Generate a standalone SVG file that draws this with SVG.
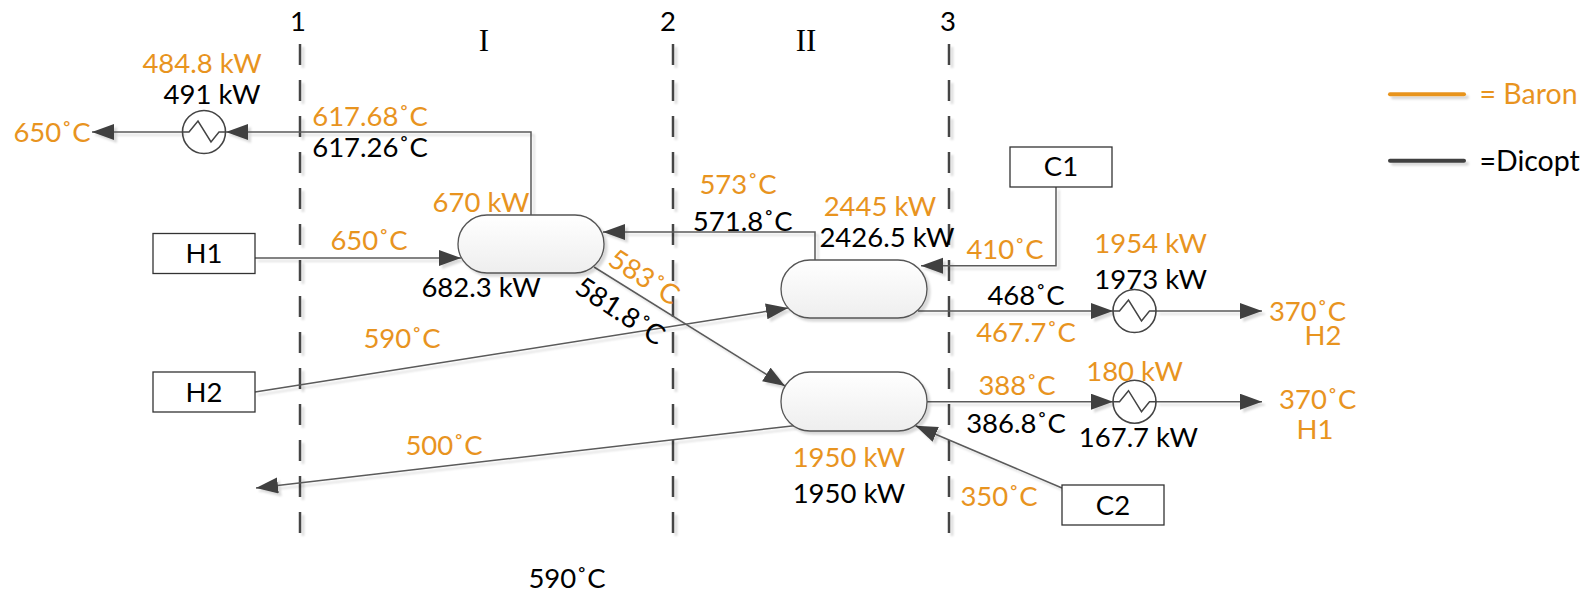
<svg xmlns="http://www.w3.org/2000/svg" width="1593" height="594" viewBox="0 0 1593 594">
<style>
text{font-family:"Lato","Carlito","Open Sans",sans-serif;font-size:27.500px;text-anchor:middle;fill:#000}
.o{fill:#e8941f}
.s{font-family:"Liberation Serif",serif;font-size:31px}
.l{text-anchor:start;font-size:28.500px}
.box{fill:#fff;stroke:#333;stroke-width:1.3}
.ves{fill:url(#g);stroke:#555;stroke-width:1.3;filter:url(#sh)}
.c{fill:none;stroke:#5a5a5a;stroke-width:1.5;marker-end:url(#a)}
.d{fill:none;stroke:#444;stroke-width:2.5;stroke-dasharray:21 15}
.hx{fill:#fff;fill-opacity:0;stroke:#444;stroke-width:1.6}
.z{fill:none;stroke:#444;stroke-width:1.5}
</style>
<defs>
<linearGradient id="g" x1="0" y1="0" x2="0" y2="1"><stop offset="0" stop-color="#fff"/><stop offset="1" stop-color="#eee"/></linearGradient>
<filter id="sh" x="-10%" y="-20%" width="125%" height="150%"><feDropShadow dx="3" dy="3" stdDeviation="1.2" flood-color="#000" flood-opacity="0.15"/></filter>
<marker id="a" markerUnits="userSpaceOnUse" markerWidth="23" markerHeight="18" refX="22" refY="8" orient="auto"><path d="M0 0L22 8L0 16Z" fill="#404040"/></marker>
<g id="zig"><path class="z" d="M-21.500 0H-15L-6-11L7 10L15 0H21.500"/></g>
</defs>

<g id="boundaries" filter="url(#sh)">
<path class="d" d="M300 44V535"/>
<path class="d" d="M673 44V535"/>
<path class="d" d="M949 44V535"/>
</g>

<g id="connectors" filter="url(#sh)">
<path class="c" d="M531 215V132H226"/>
<path class="c" d="M183 132H92"/>
<path class="c" d="M255 258H461"/>
<path class="c" d="M815 260V232H603"/>
<path class="c" d="M1056 187V265.700H921"/>
<path class="c" d="M255 392L788 308"/>
<path class="c" d="M594 267L785 386"/>
<path class="c" d="M918 311H1113"/>
<path class="c" d="M1156 311H1262"/>
<path class="c" d="M927 401.700H1113"/>
<path class="c" d="M1156 401.700H1262"/>
<path class="c" d="M794 425.700L256 488"/>
<path class="c" d="M1062 488L915.500 425.700"/>
</g>

<g id="H1"><rect class="box" x="153" y="233.500" width="102" height="40"/><text x="204" y="263">H1</text></g>
<g id="H2"><rect class="box" x="153" y="372" width="102" height="40"/><text x="204" y="402">H2</text></g>
<g id="C1"><rect class="box" x="1010" y="147" width="102" height="40"/><text x="1061" y="176">C1</text></g>
<g id="C2"><rect class="box" x="1062" y="485" width="102" height="40"/><text x="1113" y="515">C2</text></g>

<g id="HX1"><rect class="ves" x="458" y="215" width="146" height="58" rx="29"/></g>
<g id="HX2"><rect class="ves" x="781" y="260" width="146" height="58" rx="29"/></g>
<g id="HX3"><rect class="ves" x="781" y="372" width="146" height="59" rx="29"/></g>

<g id="E1"><circle class="hx" cx="204" cy="132" r="21.500"/><use href="#zig" x="204" y="132"/></g>
<g id="E2"><circle class="hx" cx="1134.500" cy="311" r="21.500"/><use href="#zig" x="1134.500" y="311"/></g>
<g id="E3"><circle class="hx" cx="1134.500" cy="401.700" r="21.500"/><use href="#zig" x="1134.500" y="401.700"/></g>

<g id="legend">
<g filter="url(#sh)">
<rect x="1388" y="92.300" width="78" height="4" rx="2" fill="#e8941f"/>
<rect x="1388" y="158.700" width="78" height="4" rx="2" fill="#404040"/>
</g>
<text class="o l" x="1479.500" y="104">= Baron</text>
<text class="l" x="1479.500" y="171">=Dicopt</text>
</g>

<g id="labels">
<text x="298" y="31">1</text>
<text x="668" y="31">2</text>
<text x="948" y="31">3</text>
<text class="s" x="484" y="51">I</text>
<text class="s" x="806" y="51">II</text>
<text class="o" x="202" y="73">484.8 kW</text>
<text x="212" y="103.500">491 kW</text>
<text class="o" x="52" y="142">650˚C</text>
<text class="o" x="370" y="126">617.68˚C</text>
<text x="370" y="157">617.26˚C</text>
<text class="o" x="481" y="212">670 kW</text>
<text class="o" x="369" y="250">650˚C</text>
<text x="481" y="297">682.3 kW</text>
<text class="o" x="738" y="194">573˚C</text>
<text x="742.700" y="231">571.8˚C</text>
<text class="o" x="880" y="216">2445 kW</text>
<text x="887" y="247">2426.5 kW</text>
<text class="o" x="1005" y="259">410˚C</text>
<text x="1026" y="305">468˚C</text>
<text class="o" x="1026" y="342">467.7˚C</text>
<text class="o" x="1017" y="395">388˚C</text>
<text x="1016" y="433">386.8˚C</text>
<text class="o" transform="translate(639 285) rotate(33)">583˚C</text>
<text transform="translate(615 319) rotate(33)">581.8˚C</text>
<text class="o" x="402" y="348">590˚C</text>
<text class="o" x="444" y="455">500˚C</text>
<text class="o" x="849" y="467">1950 kW</text>
<text x="849" y="503">1950 kW</text>
<text class="o" x="999" y="506">350˚C</text>
<text x="567" y="588">590˚C</text>
<text class="o" x="1150.700" y="253">1954 kW</text>
<text x="1150.700" y="289">1973 kW</text>
<text class="o" x="1307.500" y="321">370˚C</text>
<text class="o" x="1323" y="345">H2</text>
<text class="o" x="1134.600" y="381">180 kW</text>
<text x="1138.400" y="447">167.7 kW</text>
<text class="o" x="1317.700" y="409">370˚C</text>
<text class="o" x="1315" y="439">H1</text>
</g>
</svg>
